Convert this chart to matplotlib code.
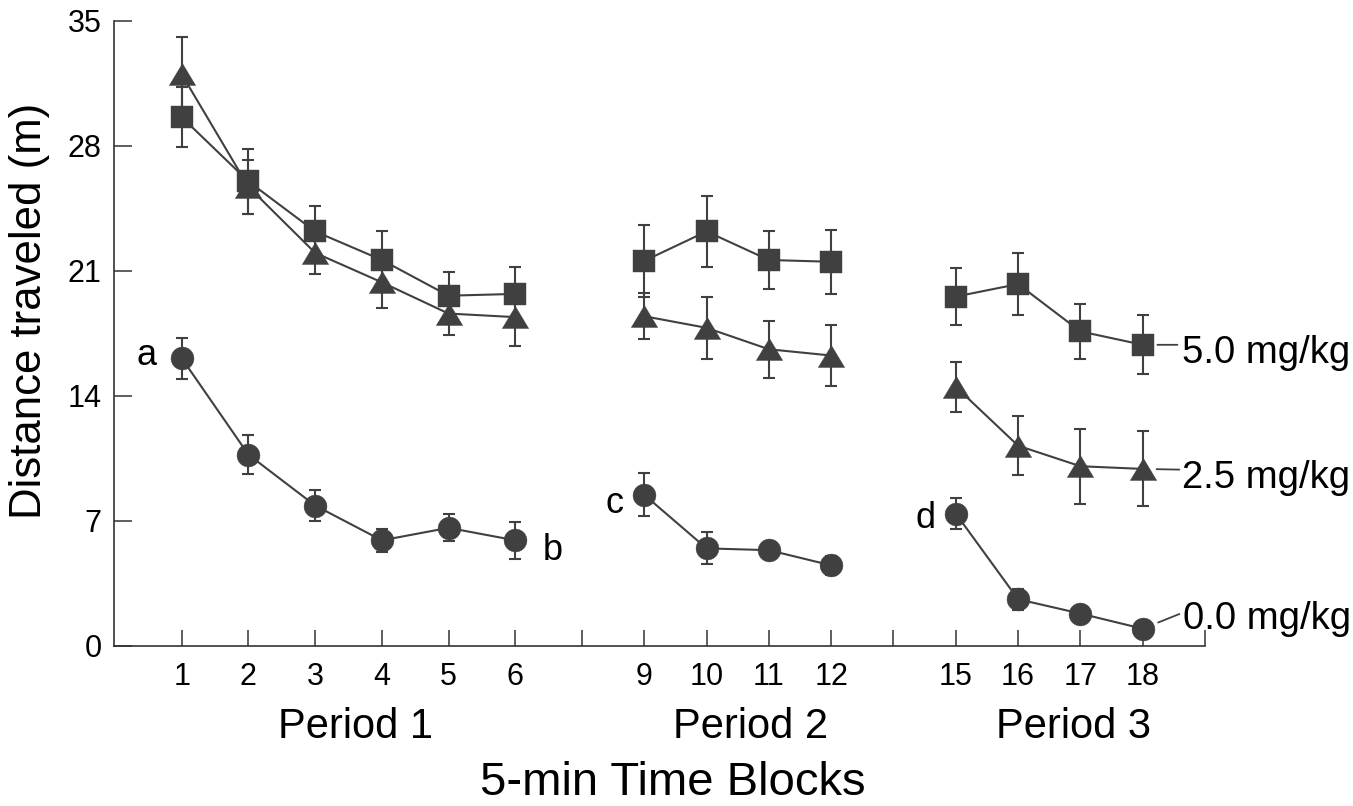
import numpy as np
import matplotlib
matplotlib.use('Agg')
import matplotlib.pyplot as plt

plt.rcParams['font.family'] = ['Liberation Sans', 'DejaVu Sans']

# ---- data ----
tick_labels = ['1', '2', '3', '4', '5', '6', '', '9', '10', '11', '12', '', '15', '16', '17', '18', '']
blocks_p1 = ['1', '2', '3', '4', '5', '6']
blocks_p2 = ['9', '10', '11', '12']
blocks_p3 = ['15', '16', '17', '18']

# 5.0 mg/kg (squares)
high_p1 = [29.6, 26.0, 23.2, 21.6, 19.6, 19.7]
high_p1_err = [1.7, 1.8, 1.45, 1.6, 1.35, 1.5]
high_p2 = [21.55, 23.2, 21.6, 21.5]
high_p2_err = [2.0, 2.0, 1.6, 1.8]
high_p3 = [19.55, 20.25, 17.6, 16.85]
high_p3_err = [1.6, 1.75, 1.55, 1.65]

# 2.5 mg/kg (triangles)
mid_p1 = [32.0, 25.7, 22.0, 20.35, 18.6, 18.4]
mid_p1_err = [2.1, 1.5, 1.2, 1.45, 1.2, 1.6]
mid_p2 = [18.45, 17.8, 16.6, 16.25]
mid_p2_err = [1.3, 1.75, 1.6, 1.7]
mid_p3 = [14.5, 11.2, 10.05, 9.9]
mid_p3_err = [1.4, 1.65, 2.1, 2.1]

# 0.0 mg/kg (circles)
low_p1 = [16.1, 10.7, 7.85, 5.9, 6.6, 5.9]
low_p1_err = [1.15, 1.1, 0.85, 0.65, 0.75, 1.05]
low_p2 = [8.45, 5.45, 5.35, 4.5]
low_p2_err = [1.2, 0.9, 0.3, 0.55]
low_p3 = [7.4, 2.6, 1.8, 0.95]
low_p3_err = [0.85, 0.6, 0.3, 0.2]

series_labels = ['5.0 mg/kg', '2.5 mg/kg', '0.0 mg/kg']
letters = ['a', 'b', 'c', 'd']

# ---- layout: slot positions along x (period 1 spacing wider than later) ----
slot_pos = []
for i in range(len(tick_labels)):
    s = i + 1
    slot_pos.append(s if s <= 7 else 7 + 0.934 * (s - 7))
pos_of = {lab: p for lab, p in zip(tick_labels, slot_pos) if lab}

W, H = 1353, 806
fig = plt.figure(figsize=(W / 100, H / 100), dpi=100)
ax_left, ax_right, ax_top, ax_bot = 114, 1205, 20.7, 645.7
ax = fig.add_axes([ax_left / W, 1 - ax_bot / H, (ax_right - ax_left) / W, (ax_bot - ax_top) / H])

col = '#404040'
tri_marker = [(0, 1), (-1.2, -1), (1.2, -1), (0, 1)]

def draw(blocks, vals, errs, marker, ms):
    xs = [pos_of[b] for b in blocks]
    ax.errorbar(xs, vals, yerr=errs, fmt='none', ecolor=col, elinewidth=1.5,
                capsize=4, capthick=1.5, clip_on=False, zorder=3)
    ax.plot(xs, vals, '-', color=col, lw=1.5, marker=marker, ms=ms, mfc=col, mec=col,
            mew=0.3, clip_on=False, zorder=4)

for b, v, e in [(blocks_p1, mid_p1, mid_p1_err), (blocks_p2, mid_p2, mid_p2_err), (blocks_p3, mid_p3, mid_p3_err)]:
    draw(b, v, e, tri_marker, 19)
for b, v, e in [(blocks_p1, high_p1, high_p1_err), (blocks_p2, high_p2, high_p2_err), (blocks_p3, high_p3, high_p3_err)]:
    draw(b, v, e, 's', 16.5)
for b, v, e in [(blocks_p1, low_p1, low_p1_err), (blocks_p2, low_p2, low_p2_err), (blocks_p3, low_p3, low_p3_err)]:
    draw(b, v, e, 'o', 16.5)

ax.set_xlim(-0.015, slot_pos[-1])
ax.set_ylim(0, 35)
ax.set_yticks([0, 7, 14, 21, 28, 35])
ax.set_xticks(slot_pos)
ax.set_xticklabels(tick_labels)
for s in ['top', 'right']:
    ax.spines[s].set_visible(False)
for s in ['left', 'bottom']:
    ax.spines[s].set_linewidth(1.2)
    ax.spines[s].set_color('#333333')
ax.tick_params(axis='y', direction='in', length=13, width=1.1, color='#333333', labelsize=22, pad=9)
ax.tick_params(axis='x', direction='in', length=11.5, width=1.1, color='#333333', labelsize=22, pad=12)

# letters near points
last_p1 = blocks_p1[-1]
ax.annotate(letters[0], (pos_of[blocks_p1[0]], low_p1[0]), xytext=(-25, -4.8), textcoords='offset points',
            ha='center', va='baseline', fontsize=26)
ax.annotate(letters[1], (pos_of[last_p1], low_p1[-1]), xytext=(27, -13.9), textcoords='offset points',
            ha='center', va='baseline', fontsize=26)
ax.annotate(letters[2], (pos_of[blocks_p2[0]], low_p2[0]), xytext=(-21.2, -13), textcoords='offset points',
            ha='center', va='baseline', fontsize=26)
ax.annotate(letters[3], (pos_of[blocks_p3[0]], low_p3[0]), xytext=(-22.1, -10.4), textcoords='offset points',
            ha='center', va='baseline', fontsize=26)

# series labels with leader lines
xe = pos_of[blocks_p3[-1]]
ends = [high_p3[-1], mid_p3[-1], low_p3[-1]]
text_off = [(28, -13.2), (28.5, -14.1), (29, 0)]
line_end = [(25, 0), (26.4, -0.5), (26.4, 10.6)]
line_shrink = [10.6, 10, 12]
for lab, yv, to, le, sh in zip(series_labels, ends, text_off, line_end, line_shrink):
    ax.annotate(lab, (xe, yv), xytext=to, textcoords='offset points', ha='left', va='baseline', fontsize=27.5,
                annotation_clip=False)
    ax.annotate('', (xe, yv), xytext=le, textcoords='offset points',
                arrowprops=dict(arrowstyle='-', color=col, lw=1.3, shrinkA=0, shrinkB=sh),
                annotation_clip=False)

# period labels
fig.text(355 / W, 1 - 738 / H, 'Period 1', ha='center', va='baseline', fontsize=30)
fig.text(751 / W, 1 - 738 / H, 'Period 2', ha='center', va='baseline', fontsize=30)
fig.text(1073 / W, 1 - 738 / H, 'Period 3', ha='center', va='baseline', fontsize=30)

fig.text(673 / W, 1 - 795 / H, '5-min Time Blocks', ha='center', va='baseline', fontsize=34)
fig.text(30 / W, 1 - 311 / H, 'Distance traveled (m)', ha='center', va='center', rotation=90, fontsize=31.5)

fig.savefig('out.png', dpi=100)
